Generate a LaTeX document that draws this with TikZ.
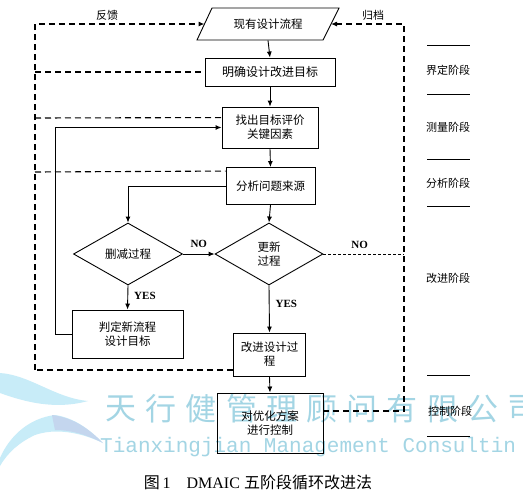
\documentclass[tikz,border=0pt]{standalone}
\usepackage{fontspec}
\setmainfont{Liberation Serif}
\setmonofont{Liberation Mono}
\newfontfamily\cjk{Noto Sans CJK SC}
\usetikzlibrary{arrows.meta,shapes.geometric,calc}
\definecolor{wm}{RGB}{163,213,228}
\definecolor{wmA}{RGB}{200,236,248}
\definecolor{wmB}{RGB}{196,214,238}
\begin{document}
\begin{tikzpicture}[x=1pt,y=-1pt,
  box/.style={draw,line width=0.9pt,align=center,inner sep=0pt,font=\cjk\fontsize{11.5}{14}\selectfont},
  dia/.style={draw,line width=0.9pt,shape=diamond,inner sep=0pt,align=center,font=\cjk\fontsize{11.5}{14}\selectfont},
  arr/.style={-{Latex[length=6pt,width=5pt]}},
  ln/.style={line width=0.9pt},
  dsh/.style={line width=1.1pt,dash pattern=on 6pt off 4pt},
  fdsh/.style={line width=0.8pt,dash pattern=on 3pt off 2pt},
  lbl/.style={font=\cjk\fontsize{11}{13}\selectfont,inner sep=0pt},
  yn/.style={font=\bfseries\fontsize{11}{13}\selectfont,inner sep=0pt},
  phase/.style={font=\cjk\fontsize{11}{13}\selectfont,inner sep=0pt}]
\useasboundingbox (0,0) rectangle (523,496);
\fill[white] (0,0) rectangle (523,496);
% watermark
\fill[wmA] (0,373) .. controls (30,375) and (55,398) .. (88,401) .. controls (55,410) and (25,402) .. (0,393) -- cycle;
\fill[wmA] (0,458) .. controls (10,435) and (30,418) .. (55,415) .. controls (75,418) and (90,430) .. (103,443) .. controls (80,432) and (55,428) .. (35,435) .. controls (20,442) and (8,452) .. (0,466) -- cycle;
\fill[wmB] (52,415) .. controls (75,418) and (90,430) .. (103,443) .. controls (85,434) and (70,430) .. (55,430) -- cycle;
\foreach \c [count=\i from 0] in {天,行,健,管,理,顾,问,有,限,公,司}
  \node[text=wm,font=\cjk\fontsize{31}{32}\selectfont,inner sep=0pt] (wm\i) at (121+40.2*\i,409) {\c};
\node[text=wm,font=\ttfamily\fontsize{21}{22}\selectfont,inner sep=0pt,anchor=base west] (wmt) at (100,452) {Tianxingjian Management Consultin};
% main flow
\node[box,draw=none,minimum width=127pt,minimum height=32pt] (p0) at (268,24) {现有设计流程};
\draw[ln] (212,8) coordinate (pa) -- (339,8) -- (323,40) -- (197,40) -- cycle;
\coordinate (pl) at (204.5,24);
\coordinate (pr) at (331,24);
\node[box,minimum width=130pt,minimum height=28pt,font=\cjk\fontsize{12}{14}\selectfont] (b1) at (270,72) {明确设计改进目标};
\node[box,minimum width=96pt,minimum height=41pt] (b2) at (270,127.5) {找出目标评价\\关键因素};
\node[box,minimum width=89pt,minimum height=37pt] (b3) at (270.5,186) {分析问题来源};
\node[dia,minimum width=109pt,minimum height=62pt,aspect=1.76] (d1) at (128,254) {删减过程};
\node[dia,minimum width=108pt,minimum height=62pt,aspect=1.74] (d2) at (269,254) {更新\\过程};
\node[box,minimum width=111pt,minimum height=48pt] (b4) at (127.5,334) {判定新流程\\设计目标};
\node[box,minimum width=72pt,minimum height=43pt] (b5) at (269.5,354.5) {改进设计过\\程};
\node[box,minimum width=106pt,minimum height=60pt] (b6) at (270,423) {对优化方案\\进行控制};
\draw[ln,arr] (p0.south) -- (b1.north);
\draw[ln,arr] (b1.south) -- (b2.north);
\draw[ln,arr] (b2.south) -- (b3.north);
\draw[ln,arr] (b3.west) -| (d1.north);
\draw[ln,arr] (b3.south) -- (d2.north);
\draw[ln,arr] (d1.east) -- (d2.west) node[yn,midway,above=6pt] (no1) {NO};
\draw[ln,arr] (d1.south) -- (b4.north) node[yn,pos=0.45,right=6pt] (yes1) {YES};
\draw[ln,arr] (d2.south) -- (b5.north) node[yn,pos=0.4,right=6pt] (yes2) {YES};
\draw[ln,arr] (b5.south) -- (b6.north);
\coordinate (lp) at (55,127.5);
\draw[ln,arr] (b4.west) -| (lp) -- (b2.west);
% left feedback dashed
\coordinate (L0) at (35,24);
\coordinate (L4) at (35,370);
\draw[dsh] ($(b5.west)+(0,15.5)$) -- (L4);
\draw[dsh,arr] (L4) -- (L0) -- (pl);
\draw[dsh] (L0 |- b1.west) -- (b1.west);
\draw[dsh] (L0 |- 0,118) -- ($(b2.north west)+(0,11)$);
\draw[dsh] (L0 |- 0,172) -- ($(b3.north west)+(0,4)$);
\node[lbl] (fk) at (107,15) {反馈};
% right archive dashed
\coordinate (R0) at (404,24);
\draw[dsh,arr] ($(b6.east)+(0,-12)$) -| (R0) -- (pr);
\draw[fdsh] (d2.east) -- (d2.east -| R0) node[yn,pos=0.45,above=5pt] (no2) {NO};
\node[lbl] (gd) at (373,15) {归档};
% phases
\foreach \y [count=\i] in {45,94,159,206,375,436}
  \draw[line width=0.8pt] (427,\y) coordinate (s\i) -- (470,\y);
\node[phase] (ph1) at (448,70) {界定阶段};
\node[phase] (ph2) at (448,127) {测量阶段};
\node[phase] (ph3) at (448,183) {分析阶段};
\node[phase] (ph4) at (448,278) {改进阶段};
\node[phase] (ph5) at (450,411) {控制阶段};
% caption
\node[inner sep=0pt,font=\fontsize{16}{18}\selectfont] (cap) at (258,482) {{\cjk 图}\,1\quad DMAIC {\cjk 五阶段循环改进法}};
\end{tikzpicture}
\end{document}
